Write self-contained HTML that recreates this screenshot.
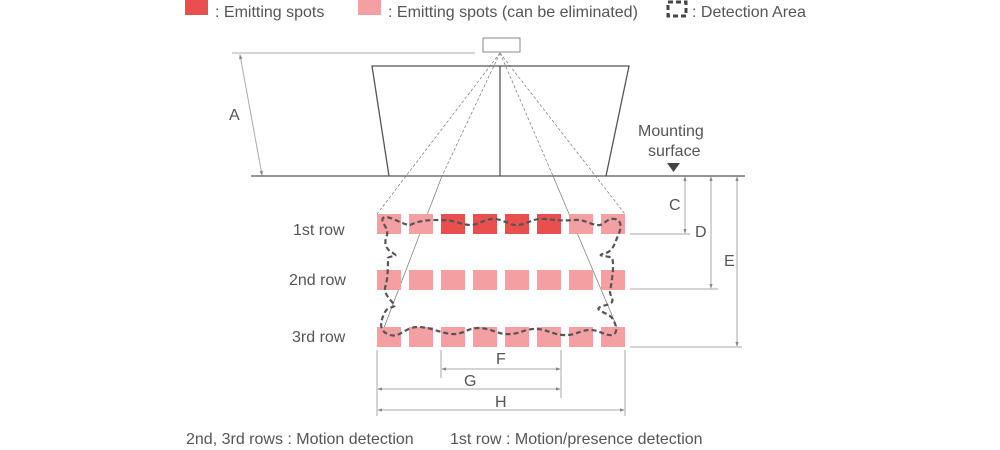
<!DOCTYPE html>
<html><head><meta charset="utf-8"><style>
html,body{margin:0;padding:0;background:#fff;}
svg{display:block;font-family:"Liberation Sans",sans-serif;}
text{fill:#555;}
</style></head><body>
<svg width="1000" height="450" viewBox="0 0 1000 450">
<defs>
<marker id="ar" viewBox="0 0 6 6" refX="5" refY="3" markerWidth="5" markerHeight="5" orient="auto-start-reverse"><path d="M0,1 L6,3 L0,5 z" fill="#888"/></marker>
</defs>
<!-- legend -->
<rect x="185" y="0" width="23" height="15" fill="#e85050"/>
<text x="215" y="17" font-size="16">: Emitting spots</text>
<rect x="358" y="0" width="23" height="15" fill="#f4a0a2"/>
<text x="388" y="17" font-size="16">: Emitting spots (can be eliminated)</text>
<rect x="668" y="2" width="18" height="14" fill="none" stroke="#444" stroke-width="3" stroke-dasharray="5,3"/>
<text x="692" y="17" font-size="16">: Detection Area</text>

<!-- sensor -->
<rect x="483" y="38" width="37" height="14" fill="#fff" stroke="#888"/>
<line x1="232" y1="53" x2="475" y2="53" stroke="#aaa"/>
<line x1="240" y1="55" x2="262" y2="175" stroke="#aaa" marker-start="url(#ar)" marker-end="url(#ar)"/>
<text x="229" y="120" font-size="16">A</text>
<!-- trapezoid -->
<polyline points="389,176 372,66 629,66 606,176" fill="none" stroke="#555" stroke-width="1.3"/>
<line x1="500" y1="66" x2="500" y2="176" stroke="#555" stroke-width="1.3"/>
<line x1="251" y1="176" x2="745" y2="176" stroke="#555" stroke-width="1.3"/>
<!-- beams -->
<g stroke="#777" stroke-width="0.7" stroke-dasharray="3,2">
<line x1="500" y1="53" x2="377" y2="214"/>
<line x1="500" y1="53" x2="625" y2="214"/>
<line x1="500" y1="53" x2="442" y2="176"/>
<line x1="500" y1="53" x2="553" y2="176"/>
</g>
<g stroke="#777" stroke-width="0.7">
<line x1="442" y1="176" x2="377" y2="346"/>
<line x1="553" y1="176" x2="625" y2="346"/>
</g>
<text x="638" y="136" font-size="16">Mounting</text>
<text x="648" y="156" font-size="16">surface</text>
<path d="M667,163 L680,163 L673.5,172 z" fill="#444"/>

<!-- spots -->
<g fill="#f4a0a2">
<rect x="377" y="214" width="24" height="20"/><rect x="409" y="214" width="24" height="20"/>
<rect x="569" y="214" width="24" height="20"/><rect x="601" y="214" width="24" height="20"/>
<rect x="377" y="270" width="24" height="20"/><rect x="409" y="270" width="24" height="20"/><rect x="441" y="270" width="24" height="20"/><rect x="473" y="270" width="24" height="20"/><rect x="505" y="270" width="24" height="20"/><rect x="537" y="270" width="24" height="20"/><rect x="569" y="270" width="24" height="20"/><rect x="601" y="270" width="24" height="20"/>
<rect x="377" y="327" width="24" height="20"/><rect x="409" y="327" width="24" height="20"/><rect x="441" y="327" width="24" height="20"/><rect x="473" y="327" width="24" height="20"/><rect x="505" y="327" width="24" height="20"/><rect x="537" y="327" width="24" height="20"/><rect x="569" y="327" width="24" height="20"/><rect x="601" y="327" width="24" height="20"/>
</g>
<g fill="#e85050">
<rect x="441" y="214" width="24" height="20"/><rect x="473" y="214" width="24" height="20"/><rect x="505" y="214" width="24" height="20"/><rect x="537" y="214" width="24" height="20"/>
</g>
<!-- detection area -->
<path d="M410,225 C420,220 430,220 441,220 C455,220 462,225 470,225 C480,225 485,218 495,219 C505,220 510,226 518,225 C528,224 532,218 545,219 C555,220 562,221 575,220 C585,219 592,226 600,225 C605,224 607,218 615,219 C624,221 620,232 617,238 C614,246 612,252 603,254 C595,256 610,256 612,258 C615,265 611,285 610,292 C611,300 618,302 603,306 C590,310 608,312 612,318 C617,325 618,334 612,335 C605,336 600,330 590,330 C580,330 575,336 563,335 C550,334 545,328 533,329 C522,330 518,335 505,334 C495,333 490,328 478,328 C468,328 462,335 452,334 C440,333 430,327 418,327 C405,327 400,338 390,335 C377,331 381,320 385,312 C388,306 395,308 395,305 C390,300 382,292 386,285 C388,275 388,265 388,258 C390,255 400,258 393,253 C383,248 385,240 387,235 C389,228 380,222 383,218 C388,214 402,225 410,225 Z" fill="none" stroke="#555" stroke-width="2.2" stroke-dasharray="5,3"/>

<text x="293" y="235" font-size="16">1st row</text>
<text x="289" y="285" font-size="16">2nd row</text>
<text x="292" y="342" font-size="16">3rd row</text>

<!-- right dims -->
<g stroke="#aaa" stroke-width="1">
<line x1="630" y1="234" x2="690" y2="234"/>
<line x1="630" y1="289" x2="718" y2="289"/>
<line x1="630" y1="347" x2="742" y2="347"/>
<line x1="685" y1="177" x2="685" y2="233" marker-start="url(#ar)" marker-end="url(#ar)"/>
<line x1="711" y1="177" x2="711" y2="288" marker-start="url(#ar)" marker-end="url(#ar)"/>
<line x1="737" y1="177" x2="737" y2="346" marker-start="url(#ar)" marker-end="url(#ar)"/>
</g>
<text x="669" y="210" font-size="16">C</text>
<text x="695" y="237" font-size="16">D</text>
<text x="724" y="266" font-size="16">E</text>

<!-- bottom dims -->
<g stroke="#aaa" stroke-width="1">
<line x1="377" y1="350" x2="377" y2="416"/>
<line x1="441" y1="350" x2="441" y2="378"/>
<line x1="561" y1="350" x2="561" y2="398"/>
<line x1="625" y1="350" x2="625" y2="416"/>
<line x1="442" y1="369" x2="560" y2="369" marker-start="url(#ar)" marker-end="url(#ar)"/>
<line x1="378" y1="389" x2="560" y2="389" marker-start="url(#ar)" marker-end="url(#ar)"/>
<line x1="378" y1="410" x2="624" y2="410" marker-start="url(#ar)" marker-end="url(#ar)"/>
</g>
<text x="496" y="364" font-size="16">F</text>
<text x="464" y="386" font-size="16">G</text>
<text x="495" y="407" font-size="16">H</text>

<text x="186" y="444" font-size="16">2nd, 3rd rows : Motion detection</text>
<text x="450" y="444" font-size="16">1st row : Motion/presence detection</text>
</svg>
</body></html>
